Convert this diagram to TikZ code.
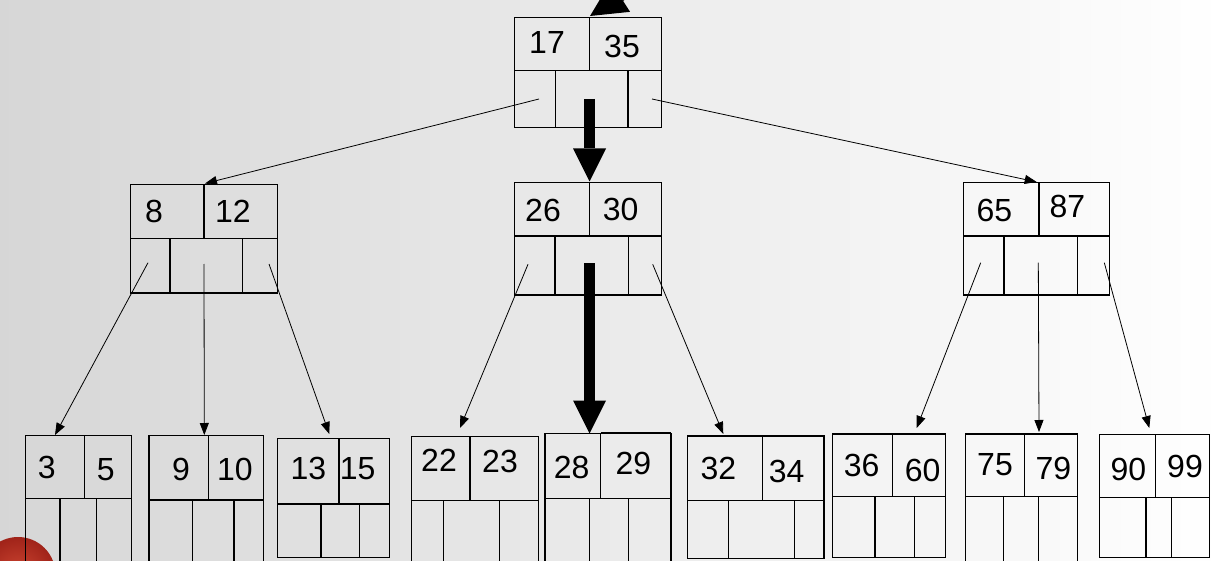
\documentclass[tikz,border=0pt]{standalone}
\usepackage{fontspec}
\setmainfont{Liberation Sans}
\usetikzlibrary{arrows.meta}
\newcommand\btbox[9]{%
  \node[box, minimum width={#4-#2}, minimum height={#5-#3}] (#1) at (#2,#3) {};
  \draw[div] (#2,#6) -- (#4,#6);
  \draw[div] (#7,#3) -- (#7,#6);
  \draw[div] (#8,#6) -- (#8,#5);
  \draw[div] (#9,#6) -- (#9,#5);}
\begin{document}
\begin{tikzpicture}[x=1pt,y=-1pt,
  box/.style={draw, line width=1.2pt, inner sep=0pt, outer sep=0pt, anchor=north west},
  div/.style={line width=1.2pt},
  key/.style={font=\fontsize{32}{36}\selectfont, inner sep=0pt},
  ptr/.style={line width=0.8pt, -{Triangle[length=12pt,width=9pt]}},
  bigarrow/.style={line width=11pt, -{Triangle[length=33pt,width=33pt,line width=0pt]}},
  inarrow/.style={line width=10pt, -{Triangle[length=36pt,width=36pt,line width=0pt]}}]
\useasboundingbox (0,0) rectangle (1225,561);
\clip (0,0) rectangle (1225,561);
\shade[left color=black!16, middle color=black!6, right color=white] (0,0) rectangle (1225,561);
\shade[inner color={rgb,255:red,205;green,70;blue,50}, outer color={rgb,255:red,160;green,35;blue,25}] (18,574.5) circle (37.5);

% root
\btbox{T}{514.3}{17.3}{661.3}{127.3}{70.3}{589.7}{555.7}{628}
\node[key] (Ta) at (547,42) {17};
\node[key] (Tb) at (622,46) {35};
\coordinate (Tp1) at (539,99);
\coordinate (Tp3) at (652,99);
\coordinate (Tin) at (590,16);
\coordinate (Tsrc) at (674.8,-38);
\draw[inarrow] (Tsrc) -- (Tin);

% level 1
\btbox{L}{130.7}{184.7}{277.3}{293}{238.3}{204}{170}{242.7}
\node[key] (La) at (154,211.7) {8};
\node[key] (Lb) at (233,211) {12};
\coordinate (Lp1) at (148,262.7);
\coordinate (Lp2) at (204,264);
\coordinate (Lp3) at (269,264);
\coordinate (Lin) at (205,183.5);

\btbox{M}{514.3}{182.7}{661.7}{295}{236}{589.3}{555}{628.3}
\node[key] (Ma) at (543,210.7) {26};
\node[key] (Mb) at (620.7,209) {30};
\coordinate (Mp1) at (528,264.3);
\coordinate (Mp3) at (652.7,264.3);
\coordinate (Tp2) at (589.5,99);
\coordinate (Mp2) at (589.5,263);
\coordinate (Min) at (589.5,181.5);

\btbox{R}{963.3}{182.7}{1109.3}{295}{236}{1039}{1004}{1077.3}
\node[key] (Ra) at (994.3,210.7) {65};
\node[key] (Rb) at (1067.3,206.7) {87};
\coordinate (Rp1) at (980.7,262.7);
\coordinate (Rp2) at (1038.3,262.7);
\coordinate (Rp3) at (1104.3,262.7);
\coordinate (Rin) at (1036.7,182);

% leaves
\btbox{A}{25.7}{435.7}{131.7}{570}{498.7}{84.3}{60}{96.7}
\node[key] (Aa) at (46.7,467.7) {3};
\node[key] (Ab) at (105.7,470) {5};
\coordinate (Ain) at (55,435);

\btbox{B}{149}{435.7}{263.3}{570}{500}{208.3}{192.3}{234}
\node[key] (Ba) at (181,469) {9};
\node[key] (Bb) at (235,469) {10};
\coordinate (Bin) at (204.3,435);

\btbox{C}{277.7}{438.3}{389.3}{557.7}{504}{339}{321}{359.3}
\node[key] (Ca) at (308.3,468.3) {13};
\node[key] (Cb) at (357.7,468.3) {15};
\coordinate (Cin) at (329.3,434);

\btbox{D}{411.7}{436.7}{538.3}{570}{500.7}{470}{443.3}{499.3}
\node[key] (Da) at (439,460) {22};
\node[key] (Db) at (500,461.7) {23};
\coordinate (Din) at (460,428);

\btbox{E}{545}{433.3}{671}{570}{498.3}{600.7}{589.3}{628.3}
\draw[line width=2pt] (600.7,432.8) -- (671,432.8);
\node[key] (Ea) at (571.7,467.3) {28};
\node[key] (Eb) at (633.3,463.3) {29};
\coordinate (Ein) at (589.5,433.5);

\btbox{F}{687.7}{436}{824}{558.3}{500.3}{762.3}{728.3}{794.3}
\node[key] (Fa) at (718.3,468.3) {32};
\node[key] (Fb) at (786.7,471.7) {34};
\coordinate (Fin) at (723.3,434);

\btbox{G}{832.7}{434}{945.3}{557.7}{496.7}{892.7}{875}{914.3}
\node[key] (Ga) at (861.7,465) {36};
\node[key] (Gb) at (922.7,470) {60};
\coordinate (Gin) at (916.7,428);

\btbox{H}{965.7}{434}{1077.3}{570}{496.7}{1024.3}{1003.3}{1038.3}
\node[key] (Ha) at (995,465) {75};
\node[key] (Hb) at (1053.3,468.3) {79};
\coordinate (Hin) at (1039,432);

\btbox{I}{1099.3}{434.3}{1209.3}{557.7}{497.3}{1155.3}{1146}{1171.7}
\node[key] (Ia) at (1128.3,469.3) {90};
\node[key] (Ib) at (1185,466) {99};
\coordinate (Iin) at (1149.3,428);

% connectors
\draw[ptr] (Tp1) -- (Lin);
\draw[ptr] (Tp3) -- (Rin);
\draw[bigarrow] (Tp2) -- (Min);
\draw[ptr] (Lp1) -- (Ain);
\draw[ptr] (Lp2) -- (Bin);
\draw[ptr] (Lp3) -- (Cin);
\draw[ptr] (Mp1) -- (Din);
\draw[bigarrow] (Mp2) -- (Ein);
\draw[ptr] (Mp3) -- (Fin);
\draw[ptr] (Rp1) -- (Gin);
\draw[ptr] (Rp2) -- (Hin);
\draw[ptr] (Rp3) -- (Iin);
\end{tikzpicture}
\end{document}
